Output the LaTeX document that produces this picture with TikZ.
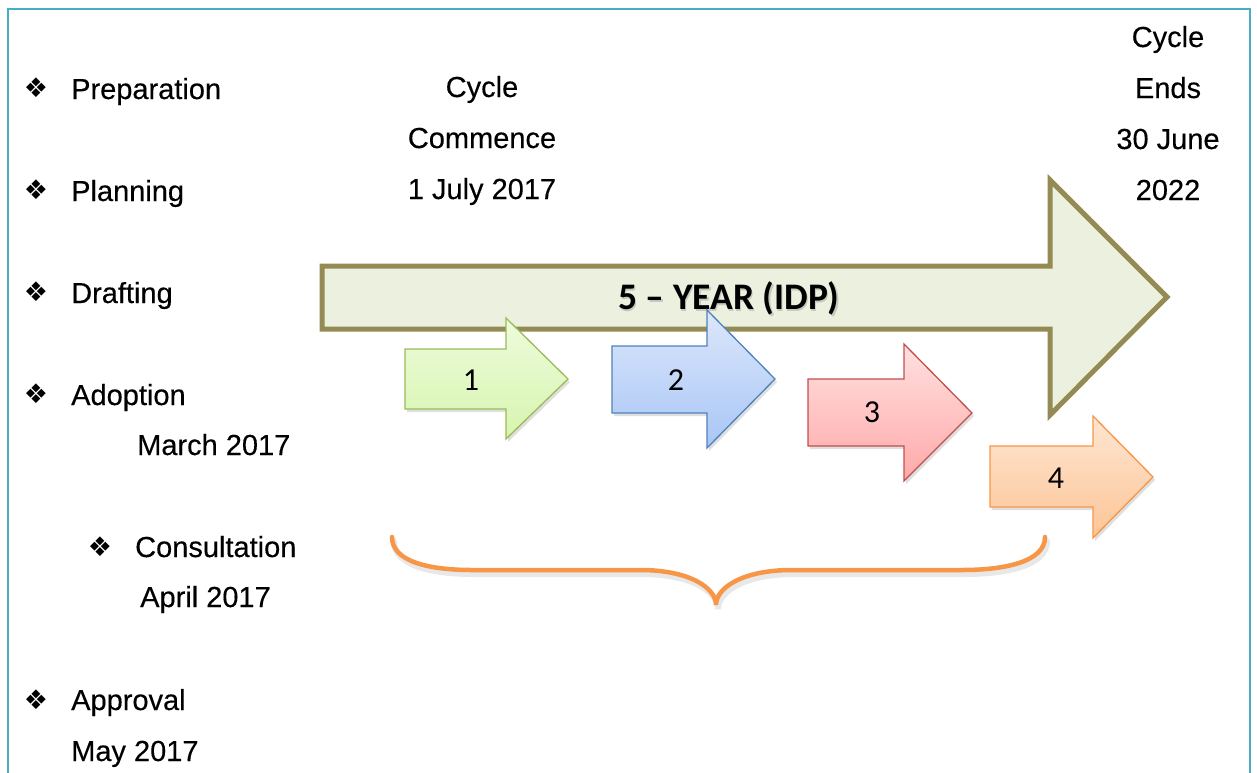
\documentclass[tikz,border=0pt]{standalone}
\usepackage{fontspec}
\setmainfont{Liberation Sans}[FakeBold=0.3]
\newfontfamily\bodyfont{Liberation Sans}[FakeBold=0.3]
\newfontfamily\calibri{Carlito}
\newfontfamily\dejavu{DejaVu Sans}
\usetikzlibrary{shadows}

\definecolor{frameblue}{HTML}{4BACC6}
\definecolor{olive}{HTML}{948A54}
\definecolor{olivefill}{HTML}{EBF1DE}
\definecolor{gline}{HTML}{9BBB59}
\definecolor{gtop}{HTML}{EEFBDD}
\definecolor{gbot}{HTML}{D6F5AE}
\definecolor{bline}{HTML}{4F81BD}
\definecolor{btop}{HTML}{DCE7FB}
\definecolor{bbot}{HTML}{A8C6F5}
\definecolor{rline}{HTML}{C0504D}
\definecolor{rtop}{HTML}{FFE0E0}
\definecolor{rbot}{HTML}{FFA9A9}
\definecolor{oline}{HTML}{F79646}
\definecolor{otop}{HTML}{FEE6D2}
\definecolor{obot}{HTML}{FDC597}

\tikzset{
  txt/.style={anchor=base west, inner sep=0pt, font=\bodyfont\fontsize{29}{29}\selectfont},
  ctxt/.style={anchor=base, inner sep=0pt, font=\bodyfont\fontsize{29}{29}\selectfont},
  bullet/.style={inner sep=0pt, font=\dejavu\fontsize{27}{27}\selectfont},
  stagearrow/.style={line width=1.3pt, drop shadow={opacity=0.25, shadow xshift=2pt, shadow yshift=-3pt}},
  stagenum/.style={inner sep=0pt, font=\calibri\fontsize{32}{32}\selectfont},
  titlefont/.style={inner sep=0pt, anchor=base, font=\calibri\bfseries\fontsize{37.5}{37.5}\selectfont},
}

\begin{document}
\begin{tikzpicture}[x=1pt, y=-1pt]
\useasboundingbox (0,0) rectangle (1257,772);
\clip (0,0) rectangle (1257,772);
\draw[frameblue, line width=2pt] (8,9) rectangle (1250,800);

% phase list
\node[bullet] (b1) at (36,88) {❖};
\node[txt] (t1) at (71,99) {Preparation};
\node[bullet] (b2) at (36,190) {❖};
\node[txt] (t2) at (71,201) {Planning};
\node[bullet] (b3) at (36,292) {❖};
\node[txt] (t3) at (71,303) {Drafting};
\node[bullet] (b4) at (36,394) {❖};
\node[txt] (t4) at (71,405) {Adoption};
\node[txt] (d4) at (137,455) {March 2017};
\node[bullet] (b5) at (100,547) {❖};
\node[txt] (t5) at (135,557) {Consultation};
\node[txt] (d5) at (140,607) {April 2017};
\node[bullet] (b6) at (36,700) {❖};
\node[txt] (t6) at (71,710) {Approval};
\node[txt] (d6) at (71,761) {May 2017};

% cycle dates
\node[ctxt] (s1) at (482,97) {Cycle};
\node[ctxt] (s2) at (482,148) {Commence};
\node[ctxt] (s3) at (482,199) {1 July 2017};
\node[ctxt] (e1) at (1168,47) {Cycle};
\node[ctxt] (e2) at (1168,98) {Ends};
\node[ctxt] (e3) at (1168,149) {30 June};
\node[ctxt] (e4) at (1168,200) {2022};

% five-year arrow
\draw[olive, fill=olivefill, line width=5pt, line join=miter]
  (322,266) -- (1050,266) -- (1050,180) -- (1167,297) -- (1050,415) -- (1050,329) -- (322,329) -- cycle;
\node[titlefont, text=black!40, opacity=0.45] at (730.5,311.5) {5 – YEAR (IDP)};
\node[titlefont] (title) at (729,309) {5 – YEAR (IDP)};

% stage arrows
\path[stagearrow, draw=gline, top color=gtop, bottom color=gbot]
  (405,349) -- (506,349) -- (506,318) -- (568,379) -- (506,439) -- (506,409) -- (405,409) -- cycle;
\path[stagearrow, draw=bline, top color=btop, bottom color=bbot]
  (612,346) -- (707,346) -- (707,310) -- (775,379) -- (707,448) -- (707,413) -- (612,413) -- cycle;
\path[stagearrow, draw=rline, top color=rtop, bottom color=rbot]
  (808,379) -- (904,379) -- (904,344) -- (972,413) -- (904,481) -- (904,446) -- (808,446) -- cycle;
\path[stagearrow, draw=oline, top color=otop, bottom color=obot]
  (990,446) -- (1093,446) -- (1093,416) -- (1153,477) -- (1093,538) -- (1093,507) -- (990,507) -- cycle;
\node[stagenum] (n1) at (471,380) {1};
\node[stagenum] (n2) at (676,380) {2};
\node[stagenum] (n3) at (872,412) {3};
\node[stagenum] (n4) at (1056,478) {4};

% brace under the stages, with a soft shadow stroke beneath it
\foreach \dx/\dy/\c/\w in {2/4/black!9/6, 0/0/oline/4.5}
  \draw[\c, line width=\w pt, line cap=round, shift={(\dx,\dy)}]
    (392,537) .. controls (392,562) and (430,570) .. (472,570)
    -- (640,570) .. controls (690,570) and (716,588) .. (716,605)
    .. controls (716,588) and (742,570) .. (792,570)
    -- (962,570) .. controls (1004,570) and (1045,562) .. (1045,537);
\end{tikzpicture}
\end{document}
